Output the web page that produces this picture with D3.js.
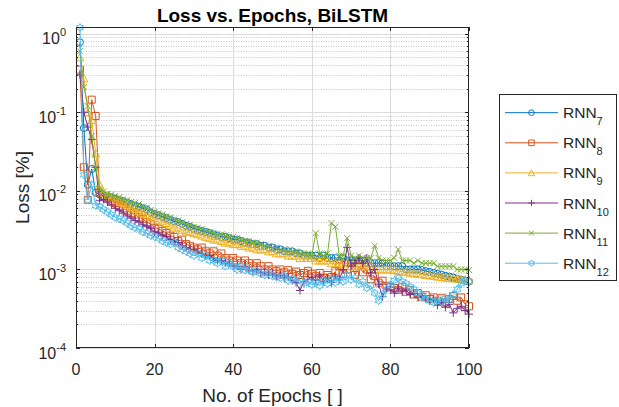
<!DOCTYPE html>
<html>
<head>
<meta charset="utf-8">
<script src="https://cdn.jsdelivr.net/npm/d3@7"></script>
<style>
  body { margin: 0; background: #fff; }
  svg text { font-family: "Liberation Sans", Arial, Helvetica, sans-serif; fill: #262626; }
</style>
</head>
<body>
<svg id="chart" width="619" height="407"></svg>
<script>
// Training loss per epoch (epochs 1..100) for six BiLSTM networks
const rnn7 = [0.78, 0.063, 0.012, 0.019, 0.0095, 0.0090, 0.0086, 0.0084, 0.0082, 0.0080,
  0.0077, 0.0074, 0.0071, 0.0068, 0.0065, 0.0063, 0.0060, 0.0058, 0.0053, 0.0051,
  0.0049, 0.0047, 0.0045, 0.0043, 0.0041, 0.0040, 0.0038, 0.0036, 0.0035, 0.0033,
  0.0032, 0.0031, 0.0030, 0.0029, 0.0028, 0.0027, 0.0026, 0.0026, 0.0025, 0.0024,
  0.0024, 0.0023, 0.0022, 0.0022, 0.0021, 0.0021, 0.0020, 0.0020, 0.0019, 0.0019,
  0.0018, 0.0018, 0.0017, 0.0017, 0.0017, 0.0016, 0.0016, 0.0015, 0.0015, 0.0015,
  0.0015, 0.0014, 0.0015, 0.0014, 0.0014, 0.0014, 0.0013, 0.0014, 0.0013, 0.0013,
  0.0013, 0.0013, 0.0013, 0.0012, 0.0012, 0.0012, 0.0012, 0.0012, 0.0011, 0.0011,
  0.0011, 0.0011, 0.0011, 0.0010, 0.0010, 0.0010, 0.0010, 0.00098, 0.00095, 0.00093,
  0.00090, 0.00088, 0.00086, 0.00083, 0.00081, 0.00079, 0.00076, 0.00074, 0.00072, 0.00070];

const rnn8 = [0.35, 0.020, 0.0077, 0.145, 0.090, 0.0095, 0.0085, 0.0080, 0.0074, 0.0070,
  0.0064, 0.0060, 0.0056, 0.0052, 0.0050, 0.0046, 0.0044, 0.0040, 0.0038, 0.0034,
  0.0033, 0.0031, 0.0029, 0.0027, 0.0026, 0.0023, 0.0024, 0.0021, 0.0020, 0.0019,
  0.0018, 0.0019, 0.0017, 0.0016, 0.0017, 0.0015, 0.0016, 0.0014, 0.0013, 0.0014,
  0.0013, 0.0012, 0.0013, 0.0012, 0.0011, 0.0012, 0.0011, 0.0010, 0.0011, 0.0010,
  0.00095, 0.0010, 0.00092, 0.00098, 0.00088, 0.00094, 0.00085, 0.00090, 0.00096, 0.00088,
  0.00082, 0.00090, 0.00078, 0.00085, 0.00080, 0.00095, 0.0011, 0.00088, 0.0010, 0.0012,
  0.00085, 0.0011, 0.00092, 0.0010, 0.00075, 0.00082, 0.00068, 0.00072, 0.00062, 0.00060,
  0.00058, 0.00055, 0.00060, 0.00052, 0.00055, 0.00048, 0.00050, 0.00045, 0.00047, 0.00042,
  0.00044, 0.00040, 0.00043, 0.00038, 0.00042, 0.00046, 0.00040, 0.00044, 0.00036, 0.00034];

const rnn9 = [0.50, 0.27, 0.10, 0.080, 0.030, 0.012, 0.0095, 0.0088, 0.0082, 0.0077,
  0.0073, 0.0069, 0.0065, 0.0062, 0.0059, 0.0055, 0.0052, 0.0050, 0.0047, 0.0045,
  0.0043, 0.0041, 0.0039, 0.0037, 0.0035, 0.0034, 0.0032, 0.0031, 0.0030, 0.0029,
  0.0028, 0.0027, 0.0026, 0.0025, 0.0024, 0.0024, 0.0023, 0.0022, 0.0022, 0.0021,
  0.0021, 0.0020, 0.0020, 0.0019, 0.0019, 0.0018, 0.0018, 0.0018, 0.0017, 0.0017,
  0.0016, 0.0016, 0.0016, 0.0015, 0.0015, 0.0015, 0.0014, 0.0014, 0.0014, 0.0014,
  0.0013, 0.0013, 0.0013, 0.0013, 0.0012, 0.0012, 0.0012, 0.0012, 0.0012, 0.0011,
  0.0011, 0.0011, 0.0011, 0.0011, 0.0011, 0.0010, 0.0010, 0.0010, 0.0010, 0.0010,
  0.00098, 0.00096, 0.00094, 0.00093, 0.00091, 0.00090, 0.00088, 0.00087, 0.00085, 0.00084,
  0.00083, 0.00081, 0.00080, 0.00079, 0.00078, 0.00077, 0.00076, 0.00075, 0.00074, 0.00073];

const rnn10 = [0.30, 0.10, 0.065, 0.045, 0.020, 0.0075, 0.0078, 0.0072, 0.0066, 0.0060,
  0.0056, 0.0052, 0.0048, 0.0045, 0.0042, 0.0040, 0.0037, 0.0035, 0.0033, 0.0030,
  0.0029, 0.0027, 0.0026, 0.0024, 0.0023, 0.0022, 0.0020, 0.0019, 0.0018, 0.0018,
  0.0017, 0.0016, 0.0015, 0.0015, 0.0014, 0.0013, 0.0013, 0.0012, 0.0012, 0.0011,
  0.0011, 0.0010, 0.0011, 0.00098, 0.00095, 0.0010, 0.00090, 0.00092, 0.00085, 0.00088,
  0.00082, 0.00085, 0.00078, 0.00080, 0.00072, 0.00068, 0.00054, 0.00070, 0.00075, 0.00080,
  0.00072, 0.00085, 0.00070, 0.00078, 0.00068, 0.00082, 0.00075, 0.0010, 0.0019, 0.0011,
  0.0012, 0.0014, 0.0012, 0.0014, 0.00090, 0.0010, 0.00065, 0.00045, 0.00058, 0.00055,
  0.00050, 0.00058, 0.00052, 0.00055, 0.00048, 0.00050, 0.00044, 0.00046, 0.00042, 0.00040,
  0.00042, 0.00035, 0.00038, 0.00033, 0.00036, 0.00028, 0.00032, 0.00034, 0.00030, 0.00027];

const rnn11 = [0.60, 0.21, 0.12, 0.050, 0.020, 0.0105, 0.0098, 0.0092, 0.0090, 0.0086,
  0.0083, 0.0078, 0.0076, 0.0072, 0.0070, 0.0068, 0.0063, 0.0061, 0.0057, 0.0054,
  0.0052, 0.0050, 0.0047, 0.0046, 0.0043, 0.0042, 0.0040, 0.0038, 0.0037, 0.0035,
  0.0034, 0.0033, 0.0031, 0.0030, 0.0029, 0.0028, 0.0028, 0.0027, 0.0026, 0.0026,
  0.0025, 0.0024, 0.0023, 0.0023, 0.0022, 0.0022, 0.0021, 0.0020, 0.0020, 0.0019,
  0.0019, 0.0018, 0.0018, 0.0017, 0.0017, 0.0017, 0.0016, 0.0016, 0.0016, 0.0015,
  0.0029, 0.0016, 0.0015, 0.0016, 0.0039, 0.0035, 0.0015, 0.0015, 0.0025, 0.0015,
  0.0014, 0.0015, 0.0014, 0.0014, 0.0014, 0.0020, 0.0014, 0.0013, 0.0013, 0.0013,
  0.0014, 0.0018, 0.0013, 0.0013, 0.0013, 0.0012, 0.0013, 0.0012, 0.0012, 0.0012,
  0.0012, 0.0011, 0.0011, 0.0011, 0.0011, 0.0011, 0.0010, 0.0010, 0.0010, 0.00098];

const rnn12 = [1.20, 0.016, 0.0077, 0.012, 0.0065, 0.0063, 0.0058, 0.0054, 0.0050, 0.0046,
  0.0044, 0.0042, 0.0039, 0.0036, 0.0034, 0.0033, 0.0030, 0.0029, 0.0027, 0.0026,
  0.0025, 0.0023, 0.0022, 0.0021, 0.0022, 0.0019, 0.0018, 0.0017, 0.0016, 0.0015,
  0.0016, 0.0014, 0.0015, 0.0013, 0.0013, 0.0012, 0.0013, 0.0011, 0.0012, 0.0011,
  0.0010, 0.0011, 0.00098, 0.0010, 0.00092, 0.00096, 0.00088, 0.00085, 0.00090, 0.00082,
  0.00080, 0.00078, 0.00082, 0.00072, 0.00076, 0.00070, 0.00074, 0.00066, 0.00070, 0.00064,
  0.00068, 0.00062, 0.00072, 0.00066, 0.00075, 0.00068, 0.00078, 0.00070, 0.00085, 0.00074,
  0.00078, 0.00065, 0.00070, 0.00058, 0.00062, 0.00050, 0.00040, 0.00048, 0.00056, 0.00064,
  0.00072, 0.00078, 0.00070, 0.00066, 0.00060, 0.00056, 0.00050, 0.00046, 0.00042, 0.00040,
  0.00038, 0.00041, 0.00039, 0.00043, 0.00041, 0.00048, 0.00056, 0.00066, 0.00072, 0.00070];

const seriesValues = [rnn7, rnn8, rnn9, rnn10, rnn11, rnn12];
const seriesBase = "RNN";
const seriesSubscripts = ["7", "8", "9", "10", "11", "12"];
const seriesColors = ["#0072BD", "#D95319", "#EDB120", "#7E2F8E", "#77AC30", "#4DBEEE"];
const seriesMarkers = ["circle", "square", "triangle", "plus", "cross", "hexagram"];

const xTicks = [0, 20, 40, 60, 80, 100];
const yExponents = [-4, -3, -2, -1, 0];
const titleText = "Loss vs. Epochs, BiLSTM";
const xLabelText = "No. of Epochs [ ]";
const yLabelText = "Loss [%]";

// Layout
const W = 619, H = 407;
const plot = { left: 76, right: 469, top: 27, bottom: 348 };
const axisColor = "#262626";

const svg = d3.select("#chart");
svg.append("rect").attr("width", W).attr("height", H).attr("fill", "#fff");

const x = d3.scaleLinear().domain([0, 100]).range([plot.left, plot.right]);
const y = d3.scaleLog().domain([1e-4, 1.22]).range([plot.bottom, plot.top]);

// Grid: dotted minor lines at 2..9 per decade, solid major lines
const gridG = svg.append("g");
const minorVals = [];
yExponents.forEach(e => {
  for (let m = 2; m <= 9; m++) {
    const v = m * Math.pow(10, e);
    if (v < y.domain()[1]) minorVals.push(v);
  }
});
gridG.selectAll("line.minor").data(minorVals).enter().append("line")
  .attr("x1", plot.left).attr("x2", plot.right)
  .attr("y1", d => Math.round(y(d)) + 0.5).attr("y2", d => Math.round(y(d)) + 0.5)
  .attr("stroke", "#c4c4c4").attr("stroke-width", 1).attr("stroke-dasharray", "1,1.5");
gridG.selectAll("line.my").data(yExponents.map(e => Math.pow(10, e))).enter().append("line")
  .attr("x1", plot.left).attr("x2", plot.right)
  .attr("y1", d => Math.round(y(d)) + 0.5).attr("y2", d => Math.round(y(d)) + 0.5)
  .attr("stroke", "#dcdcdc").attr("stroke-width", 1);
gridG.selectAll("line.mx").data(xTicks.slice(1, -1)).enter().append("line")
  .attr("y1", plot.top).attr("y2", plot.bottom)
  .attr("x1", d => Math.round(x(d)) + 0.5).attr("x2", d => Math.round(x(d)) + 0.5)
  .attr("stroke", "#dcdcdc").attr("stroke-width", 1);

// Marker shapes
function markerPath(kind) {
  const s = 3.5;
  switch (kind) {
    case "circle": return d3.symbol(d3.symbolCircle, Math.PI * s * s)();
    case "square": return `M${-s},${-s}H${s}V${s}H${-s}Z`;
    case "triangle": return `M0,${-s - 0.5}L${s + 0.5},${s}L${-s - 0.5},${s}Z`;
    case "plus": return `M${-s - 0.5},0H${s + 0.5}M0,${-s - 0.5}V${s + 0.5}`;
    case "cross": return `M${-s + 0.5},${-s + 0.5}L${s - 0.5},${s - 0.5}M${-s + 0.5},${s - 0.5}L${s - 0.5},${-s + 0.5}`;
    case "hexagram": {
      const R = s + 0.5, r = R / Math.sqrt(3);
      const pts = d3.range(12).map(k => {
        const a = -Math.PI / 2 + k * Math.PI / 6;
        const rad = k % 2 === 0 ? R : r;
        return [rad * Math.cos(a), rad * Math.sin(a)];
      });
      return "M" + pts.map(p => p[0].toFixed(2) + "," + p[1].toFixed(2)).join("L") + "Z";
    }
  }
}

// Series lines and markers
const line = d3.line().x((d, i) => x(i + 1)).y(d => y(d));
const dataG = svg.append("g");
seriesValues.forEach((vals, si) => {
  const g = dataG.append("g");
  g.append("path").attr("d", line(vals)).attr("fill", "none")
    .attr("stroke", seriesColors[si]).attr("stroke-width", 1).attr("stroke-linejoin", "round");
  g.selectAll("path.m").data(vals).enter().append("path")
    .attr("d", markerPath(seriesMarkers[si]))
    .attr("transform", (d, i) => `translate(${x(i + 1)},${y(d)})`)
    .attr("fill", "none").attr("stroke", seriesColors[si]).attr("stroke-width", 1);
});

// Axes box
svg.append("rect").attr("x", plot.left + 0.5).attr("y", plot.top + 0.5)
  .attr("width", plot.right - plot.left - 1).attr("height", plot.bottom - plot.top - 1)
  .attr("fill", "none").attr("stroke", axisColor).attr("stroke-width", 1);

// Ticks (inward, on all four sides)
const tickG = svg.append("g").attr("stroke", axisColor).attr("stroke-width", 1);
xTicks.forEach(t => {
  const px = Math.round(x(t)) + 0.5;
  tickG.append("line").attr("x1", px).attr("x2", px).attr("y1", plot.bottom).attr("y2", plot.bottom - 4);
  tickG.append("line").attr("x1", px).attr("x2", px).attr("y1", plot.top).attr("y2", plot.top + 4);
});
yExponents.forEach(e => {
  const py = Math.round(y(Math.pow(10, e))) + 0.5;
  tickG.append("line").attr("x1", plot.left).attr("x2", plot.left + 4).attr("y1", py).attr("y2", py);
  tickG.append("line").attr("x1", plot.right).attr("x2", plot.right - 4).attr("y1", py).attr("y2", py);
});
minorVals.forEach(v => {
  const py = Math.round(y(v)) + 0.5;
  tickG.append("line").attr("x1", plot.left).attr("x2", plot.left + 2).attr("y1", py).attr("y2", py);
  tickG.append("line").attr("x1", plot.right).attr("x2", plot.right - 2).attr("y1", py).attr("y2", py);
});

// Tick labels
svg.append("g").selectAll("text").data(xTicks).enter().append("text")
  .attr("x", d => x(d)).attr("y", plot.bottom + 26.5)
  .attr("text-anchor", "middle").attr("font-size", 16).text(d => d);

const yLab = svg.append("g").selectAll("text").data(yExponents).enter().append("text")
  .attr("x", 66).attr("y", d => y(Math.pow(10, d)) + 10.5)
  .attr("text-anchor", "end").attr("font-size", 16);
yLab.append("tspan").text("10");
yLab.append("tspan").attr("font-size", 11).attr("dy", -8).text(d => d === 0 ? "0" : "-" + Math.abs(d));

// Title and axis labels
svg.append("text").attr("x", (plot.left + plot.right) / 2).attr("y", 21.5)
  .attr("text-anchor", "middle").attr("font-size", 19).attr("font-weight", "bold")
  .style("fill", "#000").text(titleText);
svg.append("text").attr("x", (plot.left + plot.right) / 2).attr("y", 401.5)
  .attr("text-anchor", "middle").attr("font-size", 19).text(xLabelText);
svg.append("text").attr("transform", `translate(29,${(plot.top + plot.bottom) / 2}) rotate(-90)`)
  .attr("text-anchor", "middle").attr("font-size", 19).text(yLabelText);

// Legend
const leg = { left: 499, top: 94, right: 617, bottom: 281, row0: 112.7, rowStep: 30.1 };
svg.append("rect").attr("x", leg.left + 0.5).attr("y", leg.top + 0.5)
  .attr("width", leg.right - leg.left - 1).attr("height", leg.bottom - leg.top - 1)
  .attr("fill", "#fff").attr("stroke", axisColor).attr("stroke-width", 1);
seriesSubscripts.forEach((sub, i) => {
  const cy = leg.row0 + i * leg.rowStep;
  svg.append("line").attr("x1", 505).attr("x2", 558).attr("y1", cy).attr("y2", cy)
    .attr("stroke", seriesColors[i]).attr("stroke-width", 1);
  svg.append("path").attr("d", markerPath(seriesMarkers[i]))
    .attr("transform", `translate(531.5,${cy}) scale(0.8)`)
    .attr("fill", "none").attr("stroke", seriesColors[i]).attr("stroke-width", 1.2);
  const t = svg.append("text").attr("x", 563).attr("y", cy + 5.5).attr("font-size", 15.5);
  t.append("tspan").text(seriesBase);
  t.append("tspan").attr("font-size", 11).attr("dy", 7).text(sub);
});
</script>
</body>
</html>
